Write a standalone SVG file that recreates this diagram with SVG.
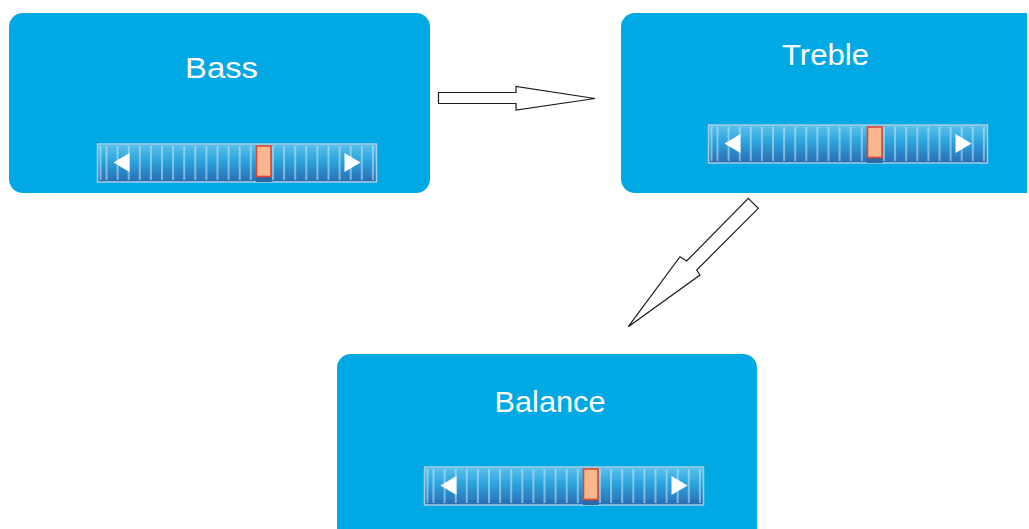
<svg xmlns="http://www.w3.org/2000/svg" width="1029" height="529" viewBox="0 0 1029 529">
  <style>
    .box { fill: #00a9e3; }
    .lbl { font-family: "Liberation Sans", Arial, sans-serif; font-size: 30px; fill: #ffffff; text-anchor: middle; }
    .arrow { fill: #ffffff; stroke: #1a1a1a; stroke-width: 1.2; stroke-linejoin: miter; }
  </style>
  <defs>
    <linearGradient id="sg" x1="0" y1="0" x2="0" y2="1">
      <stop offset="0" stop-color="#5cc2ec"/>
      <stop offset="0.45" stop-color="#2ba3dc"/>
      <stop offset="1" stop-color="#2a6cb2"/>
    </linearGradient>
    <g id="slider">
      <rect x="0" y="0" width="279" height="38" fill="url(#sg)" stroke="#a7cce2" stroke-width="1.5"/>
      <g stroke="#c4e6f7" stroke-opacity="0.55" stroke-width="2">
        <line x1="3" y1="2" x2="3" y2="36"/>
        <line x1="9" y1="2" x2="9" y2="36"/>
        <line x1="20.1" y1="2" x2="20.1" y2="36"/>
        <line x1="31.2" y1="2" x2="31.2" y2="36"/>
        <line x1="42.3" y1="2" x2="42.3" y2="36"/>
        <line x1="53.4" y1="2" x2="53.4" y2="36"/>
        <line x1="64.5" y1="2" x2="64.5" y2="36"/>
        <line x1="75.6" y1="2" x2="75.6" y2="36"/>
        <line x1="86.7" y1="2" x2="86.7" y2="36"/>
        <line x1="97.8" y1="2" x2="97.8" y2="36"/>
        <line x1="108.9" y1="2" x2="108.9" y2="36"/>
        <line x1="120" y1="2" x2="120" y2="36"/>
        <line x1="131.1" y1="2" x2="131.1" y2="36"/>
        <line x1="142.2" y1="2" x2="142.2" y2="36"/>
        <line x1="153.3" y1="2" x2="153.3" y2="36"/>
        <line x1="164.4" y1="2" x2="164.4" y2="36"/>
        <line x1="175.5" y1="2" x2="175.5" y2="36"/>
        <line x1="186.6" y1="2" x2="186.6" y2="36"/>
        <line x1="197.7" y1="2" x2="197.7" y2="36"/>
        <line x1="208.8" y1="2" x2="208.8" y2="36"/>
        <line x1="219.9" y1="2" x2="219.9" y2="36"/>
        <line x1="231" y1="2" x2="231" y2="36"/>
        <line x1="242.1" y1="2" x2="242.1" y2="36"/>
        <line x1="253.2" y1="2" x2="253.2" y2="36"/>
        <line x1="264.3" y1="2" x2="264.3" y2="36"/>
        <line x1="275.4" y1="2" x2="275.4" y2="36"/>
      </g>
      <polygon points="16,18.5 32,9 32,28" fill="#ffffff"/>
      <polygon points="263,18.5 247,9 247,28" fill="#ffffff"/>
      <rect x="158.5" y="32" width="15.5" height="6" fill="#2a68a8"/>
      <rect x="159" y="2" width="14.5" height="30.5" fill="#f8b78e" stroke="#e0462f" stroke-width="1.6"/>
    </g>
  </defs>

  <g id="node-bass">
    <rect class="box" x="9" y="13" width="421" height="180" rx="14" ry="14"/>
    <text class="lbl" x="221.5" y="78" textLength="73" lengthAdjust="spacingAndGlyphs">Bass</text>
    <use href="#slider" x="97.5" y="144"/>
  </g>

  <g id="node-treble">
    <path class="box" d="M635,13 H1027 V193 H635 A14,14 0 0 1 621,179 V27 A14,14 0 0 1 635,13 Z"/>
    <text class="lbl" x="825.5" y="65" textLength="87" lengthAdjust="spacingAndGlyphs">Treble</text>
    <use href="#slider" x="708.5" y="125"/>
  </g>

  <g id="node-balance">
    <rect class="box" x="337" y="354" width="420" height="200" rx="14" ry="14"/>
    <text class="lbl" x="550" y="411.5" textLength="111" lengthAdjust="spacingAndGlyphs">Balance</text>
    <use href="#slider" x="424.5" y="467"/>
  </g>

  <g id="connectors">
    <polygon class="arrow" points="438.5,92.5 516,92.5 516,86.5 595,98.5 516,110 516,103.5 438.5,103.5"/>
    <polygon class="arrow" points="748.3,198.3 758.3,208.3 696.7,270 700,275 628.3,326.7 680,256.7 686.7,261"/>
  </g>
</svg>
